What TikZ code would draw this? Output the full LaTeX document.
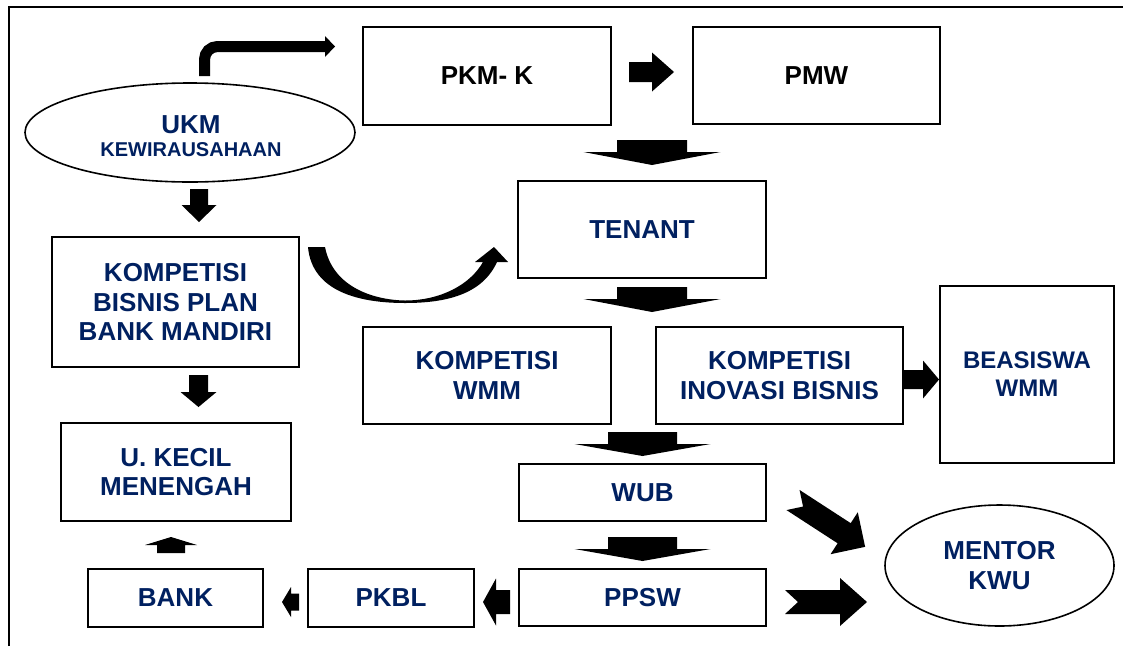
\documentclass[tikz,border=0pt]{standalone}
\usepackage{fontspec}
\setmainfont{Liberation Sans}
\usepackage{xcolor}
\usepackage{tikz}
\usetikzlibrary{shapes.geometric}
\definecolor{navy}{RGB}{0,32,96}
% block arrow: length, half shaft, half head, head length, notch
\tikzset{pics/barrow/.style n args={5}{code={
  \fill (0,-#2) -- (#1-#4,-#2) -- (#1-#4,-#3) -- (#1,0) -- (#1-#4,#3) -- (#1-#4,#2) -- (0,#2) -- (#5,0) -- cycle;
}}}
\begin{document}
\begin{tikzpicture}[x=1pt,y=-1pt,
  box/.style={draw, line width=1.6pt, text=navy, align=center, inner sep=0pt,
    font=\fontsize{26}{29.5}\selectfont\bfseries},
  oval/.style={box, ellipse}]
\useasboundingbox (0,0) rectangle (1123,646);
% frame
\draw[line width=2.5pt] (9,646) -- (9,7) -- (1123,7);
% top row
\node[oval, minimum width=330pt, minimum height=99pt] (ukm) at (190,132.5) {};
\node[text=navy, align=center, font=\fontsize{26}{29.5}\selectfont\bfseries] (ukmtext) at (191,136)
  {UKM\\[-6.5pt]{\fontsize{20}{22}\selectfont KEWIRAUSAHAAN}};
\node[box, text=black, minimum width=248pt, minimum height=98pt] (pkmk) at (487,76) {PKM- K};
\node[box, text=black, minimum width=247pt, minimum height=97pt] (pmw) at (816.5,75.5) {PMW};
\draw[line width=11pt, rounded corners=13pt] (204.5,76) |- (326,46.5);
\fill (325,36) -- (335,46.5) -- (325,57) -- cycle;
\pic at (629,72) {barrow={45}{10}{19.5}{22}{0}};
% middle column
\node[box, minimum width=248pt, minimum height=97pt] (tenant) at (642,229.5) {TENANT};
\node[box, minimum width=248pt, minimum height=97pt] (wmm) at (487,375.5) {KOMPETISI\\WMM};
\node[box, minimum width=247pt, minimum height=97pt] (kib) at (779.5,375.5) {KOMPETISI\\INOVASI BISNIS};
\node[box, font=\fontsize{24}{28}\selectfont\bfseries, minimum width=174pt, minimum height=177pt] (beasiswa) at (1027,374.5) {BEASISWA\\WMM};
\node[box, minimum width=247pt, minimum height=57pt] (wub) at (642.5,492.5) {WUB};
\node[box, minimum width=247pt, minimum height=57pt] (ppsw) at (642.5,597.5) {PPSW};
\node[oval, minimum width=229pt, minimum height=121pt] (mentor) at (999.5,565.5) {MENTOR\\KWU};
\pic[rotate=-90] at (652,140) {barrow={25}{35}{68.5}{13}{0}};
\pic[rotate=-90] at (652,287) {barrow={25}{35}{68.5}{13}{0}};
\pic[rotate=-90] at (642.5,432) {barrow={24}{34.5}{68}{12}{0}};
\pic[rotate=-90] at (642.5,537) {barrow={24}{34.5}{68}{12}{0}};
\pic at (903,379.5) {barrow={36}{9.5}{19}{16}{0}};
\pic at (785,602) {barrow={82}{12}{24}{27}{13}};
\pic[rotate=-33] at (793,500) {barrow={86}{12}{25}{25}{12}};
% left column
\node[box, minimum width=247pt, minimum height=130pt] (kbp) at (175.5,302) {KOMPETISI\\BISNIS PLAN\\BANK MANDIRI};
\node[box, minimum width=230pt, minimum height=98pt] (ukecil) at (176,472) {U. KECIL\\MENENGAH};
\node[box, minimum width=175pt, minimum height=58pt] (bank) at (175.5,598) {BANK};
\node[box, minimum width=166pt, minimum height=58pt] (pkbl) at (391,598) {PKBL};
\pic[rotate=-90] at (199,189) {barrow={33}{9}{17.5}{17}{0}};
\pic[rotate=-90] at (198.5,375) {barrow={32}{9.5}{18}{15}{0}};
\pic[rotate=90] at (171,553) {barrow={16}{14}{26}{8}{0}};
\pic[rotate=180] at (299,602) {barrow={17}{8.5}{15}{9}{0}};
\pic[rotate=180] at (510,602) {barrow={27}{12}{23.5}{13}{0}};
% curved arrow
\fill (308,247) -- (325,247) .. controls (333,288) and (375,300) .. (405,300.5)
  .. controls (440,300.5) and (470,285) .. (483,262) -- (475,262) -- (494,247)
  -- (508,262) -- (497,262) .. controls (482,295) and (445,303) .. (405,303)
  .. controls (360,303) and (312,292) .. (308,247) -- cycle;
\end{tikzpicture}
\end{document}
